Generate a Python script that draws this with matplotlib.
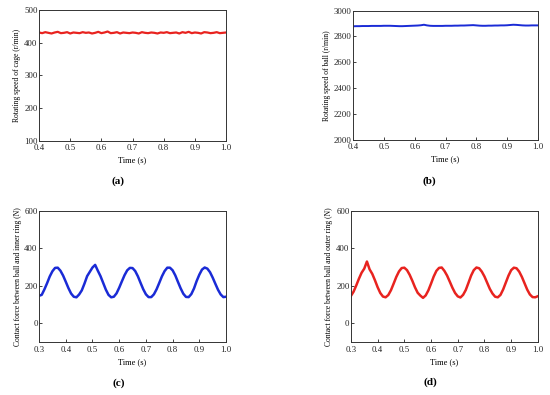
import matplotlib
matplotlib.use("Agg")
import matplotlib.pyplot as plt

plt.rcParams["font.family"] = ["Liberation Serif", "DejaVu Serif"]

# (a) cage speed, 0.4-1.0 s, step 0.01
t_a = [round(0.40 + 0.01 * i, 2) for i in range(61)]
cage = [431, 429, 432, 430, 428, 431, 433, 429, 430, 432,
        428, 431, 430, 429, 432, 430, 431, 428, 430, 433,
        429, 431, 434, 429, 430, 432, 428, 431, 430, 429,
        431, 430, 428, 432, 430, 429, 431, 430, 428, 431,
        430, 432, 429, 430, 431, 428, 432, 430, 433, 429,
        431, 430, 428, 432, 431, 429, 430, 432, 429, 430,
        431]

# (b) ball speed, 0.4-1.0 s, step 0.01
t_b = t_a
ball = [2879, 2880, 2880, 2881, 2881, 2881, 2882, 2882, 2882, 2882,
        2883, 2883, 2883, 2882, 2881, 2880, 2880, 2881, 2882, 2883,
        2884, 2885, 2887, 2891, 2886, 2883, 2882, 2882, 2882, 2882,
        2883, 2883, 2883, 2884, 2884, 2885, 2885, 2886, 2887, 2888,
        2886, 2884, 2883, 2883, 2884, 2884, 2885, 2885, 2886, 2886,
        2887, 2889, 2891, 2890, 2888, 2886, 2885, 2885, 2886, 2886,
        2886]

# (c), (d) contact forces, 0.3-1.0 s, step 0.01
t_c = [round(0.30 + 0.01 * i, 2) for i in range(71)]
inner = [147, 152, 181, 214, 250, 278, 296, 297, 281, 255,
         222, 188, 159, 142, 139, 154, 176, 212, 252, 275,
         298, 312, 281, 252, 216, 180, 152, 139, 142, 160,
         190, 224, 257, 283, 296, 295, 279, 251, 216, 182,
         155, 140, 140, 155, 182, 216, 251, 279, 297, 297,
         283, 256, 221, 187, 158, 141, 140, 156, 186, 226,
         260, 287, 298, 292, 273, 244, 211, 179, 154, 140,
         142]
outer = [146, 169, 202, 238, 270, 292, 330, 288, 264, 230,
         193, 162, 143, 139, 151, 177, 212, 248, 277, 295,
         297, 284, 259, 227, 192, 163, 148, 136, 149, 176,
         212, 250, 280, 296, 298, 280, 255, 223, 190, 162,
         144, 138, 152, 178, 216, 255, 284, 298, 294, 276,
         250, 217, 184, 159, 142, 139, 152, 181, 218, 255,
         284, 297, 294, 276, 248, 214, 180, 154, 140, 139,
         145]

RED = "#e8231f"
BLUE = "#1a2bd6"


def style(ax, xlim, ylim, xticks, yticks, ylabel):
    ax.set_xlim(*xlim)
    ax.set_ylim(*ylim)
    ax.set_xticks(xticks)
    ax.set_xticklabels([f"{v:.1f}" for v in xticks])
    ax.set_yticks(yticks)
    ax.tick_params(direction="in", length=2, width=0.6, labelsize=6.3,
                   colors="#222222")
    ax.tick_params(axis="x", pad=2.5)
    ax.tick_params(axis="y", pad=1)
    for s in ax.spines.values():
        s.set_linewidth(0.7)
        s.set_color("#333333")
    ax.set_xlabel("Time (s)", fontsize=6, labelpad=3)
    ax.set_ylabel(ylabel, fontsize=5.5, labelpad=2)


fig = plt.figure(figsize=(5.5, 3.95), dpi=100)

ax = fig.add_axes([0.071, 0.643, 0.340, 0.332])
ax.plot(t_a, cage, color=RED, lw=1.6)
style(ax, (0.4, 1.0), (100, 500), [0.4, 0.5, 0.6, 0.7, 0.8, 0.9, 1.0],
      [100, 200, 300, 400, 500], "Rotating speed of cage (r/min)")

ax = fig.add_axes([0.642, 0.646, 0.336, 0.327])
ax.plot(t_b, ball, color=BLUE, lw=1.4)
style(ax, (0.4, 1.0), (2000, 3000), [0.4, 0.5, 0.6, 0.7, 0.8, 0.9, 1.0],
      [2000, 2200, 2400, 2600, 2800, 3000], "Rotating speed of ball (r/min)")

ax = fig.add_axes([0.071, 0.134, 0.340, 0.332])
ax.plot(t_c, inner, color=BLUE, lw=1.8)
style(ax, (0.3, 1.0), (-100, 600), [0.3, 0.4, 0.5, 0.6, 0.7, 0.8, 0.9, 1.0],
      [0, 200, 400, 600], "Contact force between ball and inner ring (N)")

ax = fig.add_axes([0.638, 0.134, 0.340, 0.332])
ax.plot(t_c, outer, color=RED, lw=1.8)
style(ax, (0.3, 1.0), (-100, 600), [0.3, 0.4, 0.5, 0.6, 0.7, 0.8, 0.9, 1.0],
      [0, 200, 400, 600], "Contact force between ball and outer ring (N)")

for x, y, lab in [(0.2145, 0.542, "a"), (0.780, 0.542, "b"),
                  (0.216, 0.030, "c"), (0.782, 0.033, "d")]:
    fig.text(x, y, "(" + lab + ")", ha="center", va="center", fontsize=8,
             fontweight="bold")

fig.savefig("out.png", dpi=100)
